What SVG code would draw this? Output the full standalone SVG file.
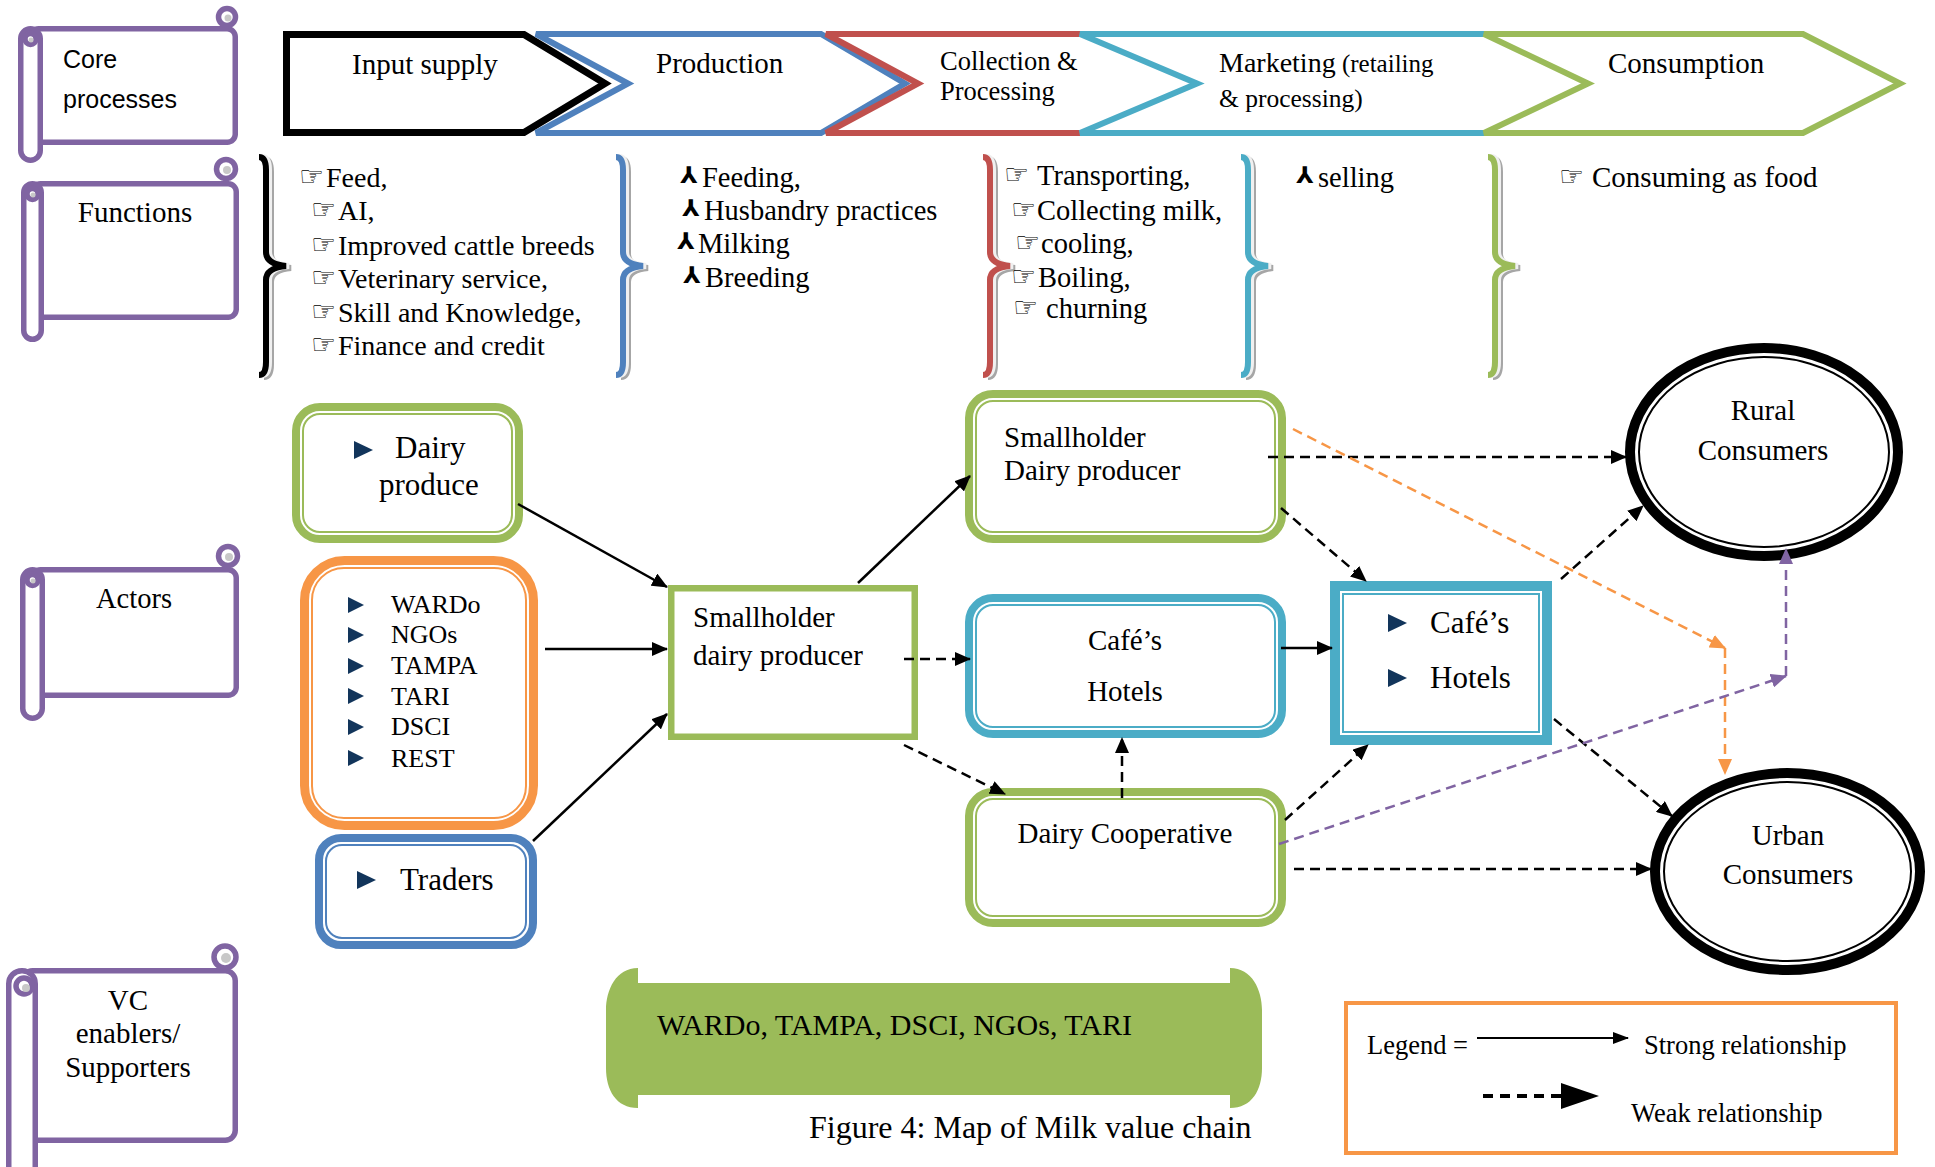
<svg xmlns="http://www.w3.org/2000/svg" width="1935" height="1167" viewBox="0 0 1935 1167">
<style>
.t{font-family:"Liberation Serif","Times New Roman",serif;fill:#000}
.s{font-family:"Liberation Sans",Arial,sans-serif;fill:#000}
.sym{font-family:"DejaVu Sans",sans-serif;fill:#000;font-size:28px}
.tp{font-family:"DejaVu Sans",sans-serif;fill:#000;font-size:23px;font-weight:bold}
.scr{fill:#fff;stroke:#8064A2;stroke-width:5.5}
.curlin{fill:#C8C8C8}
.chev{fill:#fff;stroke-linejoin:miter}
.ln{stroke:#000;stroke-width:2.5;fill:none}
.dash{stroke-dasharray:10 6}
.bul{fill:#12355B}
</style>
<defs>
<marker id="ah" markerUnits="userSpaceOnUse" markerWidth="16" markerHeight="14" refX="15" refY="7" orient="auto"><path d="M0,0 L16,7 L0,14 Z" fill="#000"/></marker>
<marker id="aho" markerUnits="userSpaceOnUse" markerWidth="16" markerHeight="14" refX="15" refY="7" orient="auto"><path d="M0,0 L16,7 L0,14 Z" fill="#F79646"/></marker>
<marker id="ahp" markerUnits="userSpaceOnUse" markerWidth="16" markerHeight="14" refX="15" refY="7" orient="auto"><path d="M0,0 L16,7 L0,14 Z" fill="#8064A2"/></marker>
<marker id="ahl" markerUnits="userSpaceOnUse" markerWidth="16" markerHeight="12" refX="15" refY="6" orient="auto"><path d="M0,0 L16,6 L0,12 Z" fill="#000"/></marker>
<path id="tri" d="M0,-9 L19,0 L0,9 Z"/>
<path id="trs" d="M0,-8 L16,0 L0,8 Z"/>
<path id="brace" d="M-7,157 Q0,157 0,170 L0,252 Q0,264 20,266 Q0,268 0,280 L0,362 Q0,375 -7,375" fill="none"/>
</defs>

<!-- Scrolls -->
<g id="scroll-core">
<rect class="scr" x="30.5" y="28.75" width="204.75" height="113.5" rx="8"/>
<circle class="scr" cx="227" cy="17" r="8.5"/>
<circle class="curlin" cx="228" cy="18" r="3.5"/>
<rect class="scr" x="20.75" y="28.75" width="19.5" height="131.5" rx="9.75"/>
<circle class="scr" cx="30.5" cy="39" r="5.5"/>
<circle class="curlin" cx="31" cy="40" r="2.5"/>
<text class="s" x="63" y="68" font-size="25">Core</text>
<text class="s" x="63" y="108" font-size="25">processes</text>
</g>
<g id="scroll-functions">
<rect class="scr" x="32.5" y="183.75" width="203.75" height="133.5" rx="8"/>
<circle class="scr" cx="226" cy="169" r="9.5"/>
<circle class="curlin" cx="227" cy="170" r="4"/>
<rect class="scr" x="23.75" y="183.75" width="17.5" height="155.5" rx="8.75"/>
<circle class="scr" cx="32.5" cy="194" r="5.5"/>
<circle class="curlin" cx="33" cy="195" r="2.5"/>
<text class="t" x="135" y="222" font-size="29" text-anchor="middle">Functions</text>
</g>
<g id="scroll-actors">
<rect class="scr" x="32.5" y="569.75" width="203.75" height="125.5" rx="8"/>
<circle class="scr" cx="228" cy="556" r="9.5"/>
<circle class="curlin" cx="229" cy="557" r="4"/>
<rect class="scr" x="22.75" y="569.75" width="19.5" height="148.5" rx="9.75"/>
<circle class="scr" cx="32.5" cy="580" r="5.5"/>
<circle class="curlin" cx="33" cy="581" r="2.5"/>
<text class="t" x="134" y="608" font-size="28.5" text-anchor="middle">Actors</text>
</g>
<g id="scroll-vc">
<rect class="scr" x="22.5" y="970.75" width="212.75" height="169.5" rx="10"/>
<circle class="scr" cx="225" cy="957" r="11"/>
<circle class="curlin" cx="226" cy="958" r="5"/>
<rect class="scr" x="8.75" y="970.75" width="26.5" height="210" rx="13"/>
<circle class="scr" cx="24" cy="986" r="8"/>
<circle class="curlin" cx="26" cy="988" r="4"/>
<text class="t" x="128" y="1010" font-size="29" text-anchor="middle">VC</text>
<text class="t" x="128" y="1043" font-size="29" text-anchor="middle">enablers/</text>
<text class="t" x="128" y="1077" font-size="29" text-anchor="middle">Supporters</text>
</g>

<!-- Chevrons -->
<g id="chevron-input">
<polygon class="chev" points="286.5,34.5 524,34.5 605,83.5 524,132.5 286.5,132.5" stroke="#000" stroke-width="7"/>
<text class="t" x="352" y="74" font-size="29">Input supply</text>
</g>
<g id="chevron-production">
<polygon class="chev" points="536,34 821,34 905,83.5 821,133 536,133 628,83.5" stroke="#4F81BD" stroke-width="6"/>
<text class="t" x="656" y="73" font-size="29">Production</text>
</g>
<g id="chevron-collection">
<polygon class="chev" points="826,34 1095,34 1212,83.5 1095,133 826,133 918,83.5" stroke="#C0504D" stroke-width="6"/>
<text class="t" x="940" y="70" font-size="26.5">Collection &amp;</text>
<text class="t" x="940" y="100" font-size="26.5">Processing</text>
</g>
<g id="chevron-marketing">
<polygon class="chev" points="1080,34 1490,34 1592,83.5 1490,133 1080,133 1197,83.5" stroke="#4BACC6" stroke-width="6"/>
<text class="t" x="1219" y="72" font-size="28">Marketing<tspan font-size="25"> (retailing</tspan></text>
<text class="t" x="1219" y="107" font-size="25.5">&amp; processing)</text>
</g>
<g id="chevron-consumption">
<polygon class="chev" points="1484,34 1803,34 1900,83.5 1803,133 1484,133 1588,83.5" stroke="#9BBB59" stroke-width="6"/>
<text class="t" x="1608" y="73" font-size="29">Consumption</text>
</g>

<!-- Function braces and lists -->
<g id="functions-input">
<use href="#brace" transform="translate(271,2)" stroke="#A6A6A6" stroke-width="6"/>
<use href="#brace" transform="translate(269,0)" stroke="#F0F0F0" stroke-width="6"/>
<use href="#brace" transform="translate(266,0)" stroke="#000" stroke-width="6"/>
<text class="sym" x="299" y="186">☞</text><text class="t" x="326" y="187" font-size="28">Feed,</text>
<text class="sym" x="311" y="219">☞</text><text class="t" x="338" y="220" font-size="28">AI,</text>
<text class="sym" x="311" y="254">☞</text><text class="t" x="338" y="255" font-size="28">Improved cattle breeds</text>
<text class="sym" x="311" y="287">☞</text><text class="t" x="338" y="288" font-size="28">Veterinary service,</text>
<text class="sym" x="311" y="321">☞</text><text class="t" x="338" y="322" font-size="28">Skill and Knowledge,</text>
<text class="sym" x="311" y="354">☞</text><text class="t" x="338" y="355" font-size="28">Finance and credit</text>
</g>
<g id="functions-production">
<use href="#brace" transform="translate(628,2)" stroke="#A6A6A6" stroke-width="6"/>
<use href="#brace" transform="translate(626,0)" stroke="#F0F0F0" stroke-width="6"/>
<use href="#brace" transform="translate(623,0)" stroke="#4F81BD" stroke-width="6"/>
<text class="tp" x="680" y="183">⅄</text><text class="t" x="702" y="187" font-size="28.5">Feeding,</text>
<text class="tp" x="682" y="216">⅄</text><text class="t" x="704" y="220" font-size="28.5">Husbandry practices</text>
<text class="tp" x="677" y="249">⅄</text><text class="t" x="698" y="253" font-size="28.5">Milking</text>
<text class="tp" x="683" y="283">⅄</text><text class="t" x="705" y="287" font-size="28.5">Breeding</text>
</g>
<g id="functions-collection">
<use href="#brace" transform="translate(995,2)" stroke="#A6A6A6" stroke-width="6"/>
<use href="#brace" transform="translate(993,0)" stroke="#F0F0F0" stroke-width="6"/>
<use href="#brace" transform="translate(990,0)" stroke="#C0504D" stroke-width="6"/>
<text class="sym" x="1004" y="184">☞</text><text class="t" x="1037" y="185" font-size="28.5">Transporting,</text>
<text class="sym" x="1011" y="219">☞</text><text class="t" x="1037" y="220" font-size="28.5">Collecting milk,</text>
<text class="sym" x="1015" y="252">☞</text><text class="t" x="1041" y="253" font-size="28.5">cooling,</text>
<text class="sym" x="1011" y="286">☞</text><text class="t" x="1038" y="287" font-size="28.5">Boiling,</text>
<text class="sym" x="1013" y="317">☞</text><text class="t" x="1046" y="318" font-size="28.5">churning</text>
</g>
<g id="functions-marketing">
<use href="#brace" transform="translate(1253,2)" stroke="#A6A6A6" stroke-width="6"/>
<use href="#brace" transform="translate(1251,0)" stroke="#F0F0F0" stroke-width="6"/>
<use href="#brace" transform="translate(1248,0)" stroke="#4BACC6" stroke-width="6"/>
<text class="tp" x="1296" y="183">⅄</text><text class="t" x="1318" y="187" font-size="28.5">selling</text>
</g>
<g id="functions-consumption">
<use href="#brace" transform="translate(1500,2)" stroke="#A6A6A6" stroke-width="6"/>
<use href="#brace" transform="translate(1498,0)" stroke="#F0F0F0" stroke-width="6"/>
<use href="#brace" transform="translate(1495,0)" stroke="#9BBB59" stroke-width="6"/>
<text class="sym" x="1559" y="186">☞</text><text class="t" x="1592" y="187" font-size="29">Consuming as food</text>
</g>

<!-- Actor nodes -->
<g id="node-dairy-produce">
<rect x="296" y="407" width="223" height="132" rx="24" fill="#fff" stroke="#9BBB59" stroke-width="8"/>
<rect x="303" y="414" width="209" height="118" rx="17" fill="none" stroke="#9BBB59" stroke-width="2"/>
<use href="#tri" class="bul" x="354" y="450"/>
<text class="t" x="395" y="458" font-size="31">Dairy</text>
<text class="t" x="379" y="495" font-size="31">produce</text>
</g>
<g id="node-organisations">
<rect x="304.5" y="560.5" width="229" height="265" rx="40" fill="#fff" stroke="#F79646" stroke-width="9"/>
<rect x="312" y="568" width="214" height="250" rx="32" fill="none" stroke="#F79646" stroke-width="2"/>
<use href="#trs" class="bul" x="348" y="605"/>
<use href="#trs" class="bul" x="348" y="635"/>
<use href="#trs" class="bul" x="348" y="666"/>
<use href="#trs" class="bul" x="348" y="696"/>
<use href="#trs" class="bul" x="348" y="727"/>
<use href="#trs" class="bul" x="348" y="758"/>
<text class="t" x="391" y="613" font-size="26">WARDo</text>
<text class="t" x="391" y="643" font-size="26">NGOs</text>
<text class="t" x="391" y="674" font-size="26">TAMPA</text>
<text class="t" x="391" y="704.5" font-size="26">TARI</text>
<text class="t" x="391" y="735" font-size="26">DSCI</text>
<text class="t" x="391" y="766.5" font-size="26">REST</text>
</g>
<g id="node-traders">
<rect x="319" y="838" width="214" height="107" rx="22" fill="#fff" stroke="#4F81BD" stroke-width="8"/>
<rect x="326" y="845" width="200" height="93" rx="16" fill="none" stroke="#4F81BD" stroke-width="2"/>
<use href="#tri" class="bul" x="357" y="880"/>
<text class="t" x="400" y="890" font-size="31">Traders</text>
</g>
<g id="node-smallholder-mid">
<rect x="671.25" y="588.25" width="243.5" height="148.5" fill="#fff" stroke="#9BBB59" stroke-width="6.5"/>
<text class="t" x="693" y="627" font-size="29">Smallholder</text>
<text class="t" x="693" y="665" font-size="29">dairy producer</text>
</g>
<g id="node-smallholder-top">
<rect x="969" y="394" width="313" height="145" rx="24" fill="#fff" stroke="#9BBB59" stroke-width="8"/>
<rect x="976" y="401" width="299" height="131" rx="17" fill="none" stroke="#9BBB59" stroke-width="2"/>
<text class="t" x="1004" y="447" font-size="29">Smallholder</text>
<text class="t" x="1004" y="480" font-size="29">Dairy producer</text>
</g>
<g id="node-cafe-mid">
<rect x="969" y="598" width="313" height="136" rx="24" fill="#fff" stroke="#4BACC6" stroke-width="8"/>
<rect x="976" y="605" width="299" height="122" rx="17" fill="none" stroke="#4BACC6" stroke-width="2"/>
<text class="t" x="1125" y="650" font-size="29" text-anchor="middle">Café’s</text>
<text class="t" x="1125" y="701" font-size="29" text-anchor="middle">Hotels</text>
</g>
<g id="node-cooperative">
<rect x="969" y="792" width="313" height="131" rx="24" fill="#fff" stroke="#9BBB59" stroke-width="8"/>
<rect x="976" y="799" width="299" height="117" rx="17" fill="none" stroke="#9BBB59" stroke-width="2"/>
<text class="t" x="1125" y="843" font-size="29" text-anchor="middle">Dairy Cooperative</text>
</g>
<g id="node-cafe-right">
<rect x="1335" y="586" width="212" height="154" fill="#fff" stroke="#4BACC6" stroke-width="10"/>
<rect x="1343" y="594" width="196" height="138" fill="none" stroke="#4BACC6" stroke-width="2"/>
<use href="#tri" class="bul" x="1388" y="623"/>
<use href="#tri" class="bul" x="1388" y="678"/>
<text class="t" x="1430" y="633" font-size="31">Café’s</text>
<text class="t" x="1430" y="688" font-size="31">Hotels</text>
</g>
<g id="node-rural">
<ellipse cx="1764" cy="452" rx="134" ry="104" fill="#fff" stroke="#000" stroke-width="10"/>
<ellipse cx="1764" cy="452" rx="125" ry="95" fill="none" stroke="#000" stroke-width="2"/>
<text class="t" x="1763" y="420" font-size="29" text-anchor="middle">Rural</text>
<text class="t" x="1763" y="460" font-size="29" text-anchor="middle">Consumers</text>
</g>
<g id="node-urban">
<ellipse cx="1787.5" cy="871.5" rx="132.5" ry="98.5" fill="#fff" stroke="#000" stroke-width="10"/>
<ellipse cx="1787.5" cy="871.5" rx="123.5" ry="89.5" fill="none" stroke="#000" stroke-width="2"/>
<text class="t" x="1788" y="845" font-size="29" text-anchor="middle">Urban</text>
<text class="t" x="1788" y="884" font-size="29" text-anchor="middle">Consumers</text>
</g>

<!-- Enablers banner -->
<g id="node-enablers">
<path d="M638,968 L638,983 L1230,983 L1230,968 C1252,968 1262,990 1262,1010 L1262,1068 C1262,1090 1252,1108 1230,1108 L1230,1095 L638,1095 L638,1108 C616,1108 606,1090 606,1068 L606,1010 C606,990 616,968 638,968 Z" fill="#9BBB59"/>
<text class="t" x="657" y="1035" font-size="29" textLength="475" lengthAdjust="spacingAndGlyphs">WARDo, TAMPA, DSCI, NGOs, TARI</text>
</g>

<!-- Connectors -->
<g id="connectors">
<line class="ln" x1="518" y1="504" x2="667" y2="587" marker-end="url(#ah)"/>
<line class="ln" x1="545" y1="649" x2="667" y2="649" marker-end="url(#ah)"/>
<line class="ln" x1="533" y1="841" x2="667" y2="714" marker-end="url(#ah)"/>
<line class="ln" x1="858" y1="583" x2="970" y2="476" marker-end="url(#ah)"/>
<line class="ln dash" x1="904" y1="659" x2="970" y2="659" marker-end="url(#ah)"/>
<line class="ln dash" x1="904" y1="745" x2="1005" y2="794" marker-end="url(#ah)"/>
<line class="ln dash" x1="1122" y1="798" x2="1122" y2="738" marker-end="url(#ah)"/>
<line class="ln" x1="1281" y1="648" x2="1332" y2="648" marker-end="url(#ah)"/>
<line class="ln dash" x1="1268" y1="457" x2="1626" y2="457" marker-end="url(#ah)"/>
<line class="ln dash" x1="1281" y1="508" x2="1366" y2="581" marker-end="url(#ah)"/>
<line class="ln dash" x1="1561" y1="579" x2="1643" y2="506" marker-end="url(#ah)"/>
<line class="ln dash" x1="1554" y1="719" x2="1672" y2="816" marker-end="url(#ah)"/>
<line class="ln dash" x1="1285" y1="820" x2="1368" y2="745" marker-end="url(#ah)"/>
<line class="ln dash" x1="1294" y1="869" x2="1651" y2="869" marker-end="url(#ah)"/>
<line class="ln dash" x1="1293" y1="429" x2="1725" y2="648" style="stroke:#F79646" marker-end="url(#aho)"/>
<line class="ln dash" x1="1725" y1="648" x2="1725" y2="774" style="stroke:#F79646" marker-end="url(#aho)"/>
<line class="ln dash" x1="1279" y1="844" x2="1786" y2="676" style="stroke:#8064A2" marker-end="url(#ahp)"/>
<line class="ln dash" x1="1786" y1="676" x2="1786" y2="549" style="stroke:#8064A2" marker-end="url(#ahp)"/>
</g>

<!-- Legend -->
<g id="legend">
<rect x="1346" y="1003" width="550" height="150" fill="#fff" stroke="#F79646" stroke-width="4"/>
<text class="t" x="1367" y="1054" font-size="26.5">Legend =</text>
<line x1="1477" y1="1038" x2="1628" y2="1038" stroke="#000" stroke-width="2" marker-end="url(#ahl)"/>
<text class="t" x="1644" y="1054" font-size="26.5">Strong relationship</text>
<line x1="1483" y1="1096" x2="1565" y2="1096" stroke="#000" stroke-width="4" stroke-dasharray="10 7"/>
<path d="M1561,1083 L1599,1096 L1561,1109 Z" fill="#000"/>
<text class="t" x="1631" y="1122" font-size="26.5">Weak relationship</text>
</g>

<text class="t" x="809" y="1138" font-size="32">Figure 4: Map of Milk value chain</text>
</svg>
